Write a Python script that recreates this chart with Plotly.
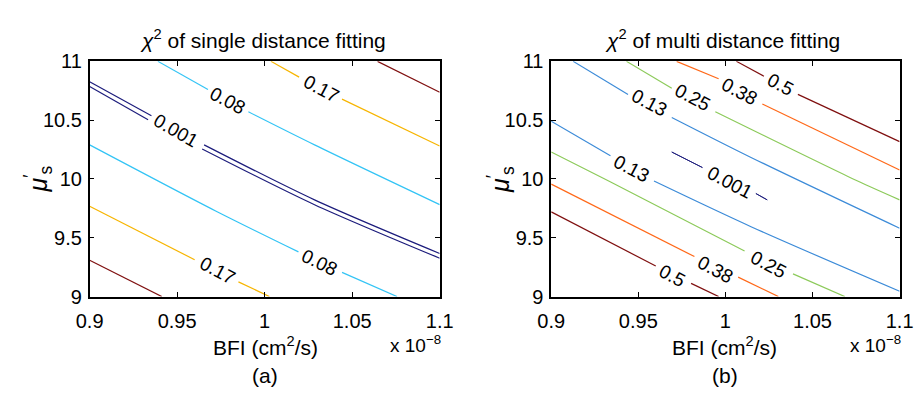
import plotly.graph_objects as go

FONT = "Liberation Sans, Arial, Helvetica, sans-serif"

# ---------------- data (BFI in units of 1e-8 cm^2/s, mu_s') ----------------
x_ticks = [0.9, 0.95, 1.0, 1.05, 1.1]
x_tick_text = ["0.9", "0.95", "1", "1.05", "1.1"]
y_ticks = [9, 9.5, 10, 10.5, 11]
y_tick_text = ["9", "9.5", "10", "10.5", "11"]

# (a) single distance fitting: contour polylines (None = label gap)
single_001_a_x = [0.9, 0.9353, None, 0.9654, 1.0285, 1.1]
single_001_a_y = [10.826, 10.537, None, 10.290, 9.822, 9.366]
single_001_b_x = [0.9, 0.9334, None, 0.9643, 1.0285, 1.1]
single_001_b_y = [10.786, 10.504, None, 10.255, 9.781, 9.326]
single_008_up_x = [0.939, 0.9676, None, 0.9907, 1.0285, 1.1]
single_008_up_y = [11.0, 10.761, None, 10.571, 10.29, 9.782]
single_008_lo_x = [0.9, 0.972, 1.0193, None, 1.0442, 1.0756]
single_008_lo_y = [10.29, 9.728, 9.38, None, 9.206, 9.0]
single_017_up_x = [1.0036, 1.0197, None, 1.0442, 1.1]
single_017_up_y = [11.0, 10.866, None, 10.679, 10.28]
single_017_lo_x = [0.9, 0.960, None, 0.985, 1.0027]
single_017_lo_y = [9.768, 9.313, None, 9.125, 9.0]
single_hi_up_x = [1.0645, 1.1]
single_hi_up_y = [11.0, 10.737]
single_hi_lo_x = [0.9, 0.9412]
single_hi_lo_y = [9.308, 9.0]

single_label_text = ["0.001", "0.08", "0.17", "0.08", "0.17"]
single_label_x = [0.9491, 0.9787, 1.0322, 1.0313, 0.9731]
single_label_y = [10.41, 10.665, 10.772, 9.292, 9.219]
single_label_angle = [30, 28, 28, 26, 28]

# (b) multi distance fitting
multi_001_a_x = [0.9692, 0.9780, 0.9868, 0.9780, 0.9692]
multi_001_a_y = [10.229, 10.166, 10.097, 10.160, 10.229]
multi_001_b_x = [1.0175, 1.0208, 1.0240, 1.0208, 1.0175]
multi_001_b_y = [9.876, 9.850, 9.822, 9.848, 9.876]
multi_013_up_x = [0.9126, 0.9441, None, 0.9692, 1.0147, 1.1]
multi_013_up_y = [11.0, 10.719, None, 10.523, 10.183, 9.581]
multi_013_lo_x = [0.9, 0.934, None, 0.959, 1.0147, 1.1]
multi_013_lo_y = [10.491, 10.197, None, 9.982, 9.594, 9.045]
multi_025_up_x = [0.9432, 0.9692, None, 0.9942, 1.0759, 1.1]
multi_025_up_y = [11.0, 10.772, None, 10.571, 9.982, 9.822]
multi_025_lo_x = [0.9, 0.933, 1.011, None, 1.0388, 1.0685]
multi_025_lo_y = [10.229, 9.982, 9.388, None, 9.193, 9.0]
multi_038_up_x = [0.972, 0.9961, None, 1.0212, 1.1]
multi_038_up_y = [11.0, 10.852, None, 10.638, 10.076]
multi_038_lo_x = [0.9, 0.9822, None, 1.0073, 1.0304]
multi_038_lo_y = [9.956, 9.34, None, 9.165, 9.0]
multi_05_up_x = [1.0063, 1.0221, None, 1.0416, 1.1]
multi_05_up_y = [11.0, 10.874, None, 10.719, 10.317]
multi_05_lo_x = [0.9, 0.96, None, 0.9803, 0.9961]
multi_05_lo_y = [9.72, 9.26, None, 9.112, 9.0]

multi_label_text = ["0.13", "0.25", "0.38", "0.5", "0.13", "0.001", "0.25", "0.38", "0.5"]
multi_label_x = [0.9562, 0.9813, 1.0082, 1.0314, 0.946, 1.0026, 1.0247, 0.9942, 0.9692]
multi_label_y = [10.651, 10.692, 10.745, 10.80, 10.089, 9.969, 9.273, 9.233, 9.179]
multi_label_angle = [28, 28, 28, 28, 28, 28, 28, 28, 28]

# ---------------- styles ----------------
NAVY = "#1c1c7c"
CYAN = "#33c4f5"
GOLD = "#f7b500"
DRED = "#7f0f0f"
BLUE = "#3c8bd8"
GREEN = "#8cca5a"
ORANGE = "#ff6818"

fig = go.Figure()

def add_line(x, y, color, xa, ya, width=1.2, shape="spline"):
    fig.add_trace(go.Scatter(x=x, y=y, mode="lines", xaxis=xa, yaxis=ya,
                             line=dict(color=color, width=width, shape=shape, smoothing=0.8),
                             connectgaps=False, hoverinfo="skip", showlegend=False))

for xs, ys, c in [
    (single_001_a_x, single_001_a_y, NAVY), (single_001_b_x, single_001_b_y, NAVY),
    (single_008_up_x, single_008_up_y, CYAN), (single_008_lo_x, single_008_lo_y, CYAN),
    (single_017_up_x, single_017_up_y, GOLD), (single_017_lo_x, single_017_lo_y, GOLD),
    (single_hi_up_x, single_hi_up_y, DRED), (single_hi_lo_x, single_hi_lo_y, DRED),
]:
    add_line(xs, ys, c, "x", "y")

for xs, ys, c in [
    (multi_013_up_x, multi_013_up_y, BLUE), (multi_013_lo_x, multi_013_lo_y, BLUE),
    (multi_025_up_x, multi_025_up_y, GREEN), (multi_025_lo_x, multi_025_lo_y, GREEN),
    (multi_038_up_x, multi_038_up_y, ORANGE), (multi_038_lo_x, multi_038_lo_y, ORANGE),
    (multi_05_up_x, multi_05_up_y, DRED), (multi_05_lo_x, multi_05_lo_y, DRED),
]:
    add_line(xs, ys, c, "x2", "y2")
for xs, ys in [(multi_001_a_x, multi_001_a_y), (multi_001_b_x, multi_001_b_y)]:
    add_line(xs, ys, NAVY, "x2", "y2", width=0.9, shape="linear")

annotations = []
for t, x, y, a in zip(single_label_text, single_label_x, single_label_y, single_label_angle):
    annotations.append(dict(text=t, x=x, y=y, xref="x", yref="y", showarrow=False,
                            textangle=a, font=dict(family=FONT, size=19, color="black")))
for t, x, y, a in zip(multi_label_text, multi_label_x, multi_label_y, multi_label_angle):
    annotations.append(dict(text=t, x=x, y=y, xref="x2", yref="y2", showarrow=False,
                            textangle=a, font=dict(family=FONT, size=19, color="black")))

W, H = 924, 397
def px(xp):
    return xp / W
def py(yp):
    return 1 - yp / H

panels = [
    dict(title="<i>χ</i><sup>2</sup> of single distance fitting", tx=257, sub="(a)", cx=259,
         mult_x=414, ytx=25),
    dict(title="<i>χ</i><sup>2</sup> of multi distance fitting", tx=731, sub="(b)", cx=733,
         mult_x=888, ytx=502),
]
for p in panels:
    annotations.append(dict(text=p["title"], x=px(p["tx"]), y=py(30), xref="paper", yref="paper",
                            showarrow=False, xanchor="center", yanchor="middle",
                            font=dict(family=FONT, size=21, color="black")))
    annotations.append(dict(text="BFI (cm<sup>2</sup>/s)", x=px(p["cx"]), y=py(355), xref="paper",
                            yref="paper", showarrow=False, xanchor="center", yanchor="middle",
                            font=dict(family=FONT, size=21, color="black")))
    annotations.append(dict(text="x 10<sup>−8</sup>", x=px(p["mult_x"]), y=py(353), xref="paper",
                            yref="paper", showarrow=False, xanchor="center", yanchor="middle",
                            font=dict(family=FONT, size=19, color="black")))
    annotations.append(dict(text=p["sub"], x=px(p["cx"]), y=py(386), xref="paper", yref="paper",
                            showarrow=False, xanchor="center", yanchor="middle",
                            font=dict(family=FONT, size=21, color="black")))
    annotations.append(dict(text="<i>μ</i><sup>′</sup><sub>s</sub>", x=px(p["ytx"]), y=py(178),
                            xref="paper", yref="paper", showarrow=False, textangle=-90,
                            xanchor="center", yanchor="middle",
                            font=dict(family=FONT, size=25, color="black")))

axis_common = dict(showgrid=False, zeroline=False, showline=True, linecolor="black",
                   linewidth=1.5, mirror="ticks", ticks="inside", ticklen=5, tickwidth=1,
                   tickcolor="black", tickfont=dict(family=FONT, size=20, color="black"))

fig.update_layout(
    width=W, height=H, margin=dict(l=0, r=0, t=0, b=0),
    paper_bgcolor="white", plot_bgcolor="white", showlegend=False,
    xaxis=dict(domain=[px(78), px(439)], range=[0.9, 1.1], tickvals=x_ticks,
               ticktext=x_tick_text, anchor="y", ticklabelstandoff=6, **axis_common),
    yaxis=dict(domain=[py(302.3), py(53.3)], range=[9, 11], tickvals=y_ticks,
               ticktext=y_tick_text, anchor="x", ticklabelstandoff=2, **axis_common),
    xaxis2=dict(domain=[px(554), px(913.3)], range=[0.9, 1.1], tickvals=x_ticks,
                ticktext=x_tick_text, anchor="y2", ticklabelstandoff=6, **axis_common),
    yaxis2=dict(domain=[py(302.3), py(53.3)], range=[9, 11], tickvals=y_ticks,
                ticktext=y_tick_text, anchor="x2", ticklabelstandoff=2, **axis_common),
    annotations=annotations,
)

fig.write_html("out.html")
